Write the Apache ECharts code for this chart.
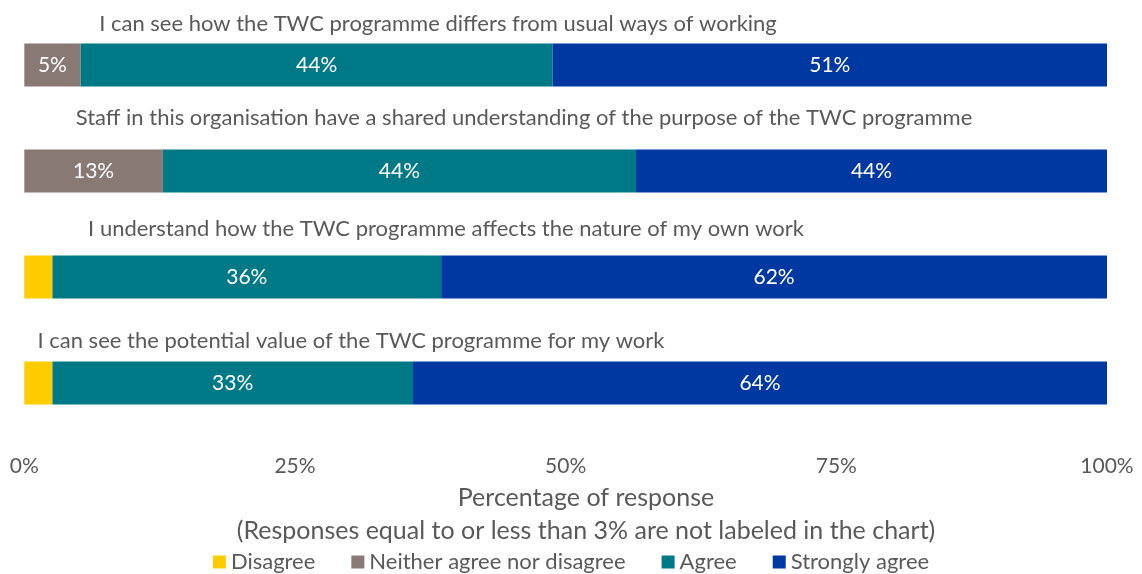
<!DOCTYPE html>
<html>
<head>
<meta charset="utf-8">
<script src="https://cdn.jsdelivr.net/npm/echarts@6/dist/echarts.min.js"></script>
<style>
  html, body { margin: 0; padding: 0; background: #ffffff; }
  #chart { width: 1142px; height: 574px; }
</style>
</head>
<body>
<div id="chart"></div>
<script>
// Survey statements (top to bottom)
const statements = [
  'I can see how the TWC programme differs from usual ways of working',
  'Staff in this organisation have a shared understanding of the purpose of the TWC programme',
  'I understand how the TWC programme affects the nature of my own work',
  'I can see the potential value of the TWC programme for my work'
];

// Response shares, percent of respondents per statement
const disagree      = [0,    0,    2.6,  2.6];
const neither       = [5.2,  12.8, 0,    0];
const agree         = [43.6, 43.7, 35.9, 33.3];
const stronglyAgree = [51.2, 43.5, 61.5, 64.1];

const seriesNames = ['Disagree', 'Neither agree nor disagree', 'Agree', 'Strongly agree'];
const xTicks = [0, 25, 50, 75, 100];

const FONT = 'Lato, "Noto Sans", sans-serif';
const TEXT = '#595959';
const colors = ['#FFCC00', '#897974', '#007987', '#0038A2'];

// Where each statement's heading sits above its bar
const headingPos = [[438, 24], [524, 118], [446, 229], [351, 341]];

const chart = echarts.init(document.getElementById('chart'), null, { renderer: 'canvas' });

function makeSeries(name, data, color) {
  return {
    name: name,
    type: 'bar',
    stack: 'total',
    data: data,
    barWidth: 43,
    itemStyle: { color: color },
    label: {
      show: true,
      position: 'inside',
      color: '#ffffff',
      fontFamily: FONT,
      fontSize: 21,
      formatter: p => (p.value > 3 ? Math.round(p.value) + '%' : '')
    },
    emphasis: { disabled: true }
  };
}

const option = {
  animation: false,
  textStyle: { fontFamily: FONT },
  grid: { left: 24.3, right: 35, top: 12, height: 424, containLabel: false },
  xAxis: {
    type: 'value',
    min: xTicks[0],
    max: xTicks[xTicks.length - 1],
    interval: 25,
    axisLine: { show: false },
    axisTick: { show: false },
    splitLine: { show: false },
    axisLabel: {
      color: TEXT,
      fontFamily: FONT,
      fontSize: 21,
      margin: 20,
      formatter: '{value}%'
    }
  },
  yAxis: {
    type: 'category',
    inverse: true,
    data: statements,
    axisLine: { show: false },
    axisTick: { show: false },
    axisLabel: { show: false }
  },
  legend: {
    top: 546,
    left: 'center',
    icon: 'rect',
    itemWidth: 13,
    itemHeight: 13,
    itemGap: 36,
    selectedMode: false,
    data: seriesNames,
    textStyle: { color: TEXT, fontFamily: FONT, fontSize: 22 }
  },
  graphic: statements.map((s, i) => ({
    type: 'text',
    x: headingPos[i][0],
    y: headingPos[i][1],
    style: {
      text: s,
      fill: TEXT,
      font: '22px ' + FONT,
      align: 'center',
      verticalAlign: 'middle'
    }
  })).concat([
    {
      type: 'text', x: 586, y: 498,
      style: { text: 'Percentage of response', fill: TEXT, font: '25px ' + FONT, align: 'center', verticalAlign: 'middle' }
    },
    {
      type: 'text', x: 586, y: 531,
      style: { text: '(Responses equal to or less than 3% are not labeled in the chart)', fill: TEXT, font: '25px ' + FONT, align: 'center', verticalAlign: 'middle' }
    }
  ]),
  series: [
    makeSeries(seriesNames[0], disagree, colors[0]),
    makeSeries(seriesNames[1], neither, colors[1]),
    makeSeries(seriesNames[2], agree, colors[2]),
    makeSeries(seriesNames[3], stronglyAgree, colors[3])
  ]
};

chart.setOption(option);
</script>
</body>
</html>
